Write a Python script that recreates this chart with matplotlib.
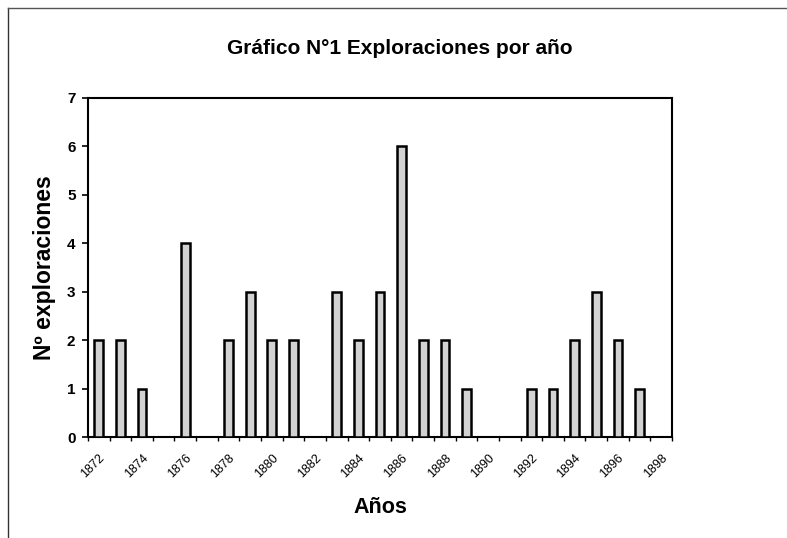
import matplotlib.pyplot as plt
import numpy as np
from matplotlib.lines import Line2D

plt.rcParams['font.family'] = ['Liberation Sans', 'DejaVu Sans']

years = list(range(1872, 1899))
exploraciones = [2, 2, 1, 0, 4, 0, 2, 3, 2, 2, 0, 3, 2, 3, 6, 2, 2, 1, 0, 0, 1, 1, 2, 3, 2, 1, 0]
label_years = [str(y) for y in years[::2]]

fig = plt.figure(figsize=(7.87, 5.38), dpi=100)
ax = fig.add_axes([0.1118, 0.1877, 0.742, 0.6307])

x = np.arange(len(years))
ax.bar(x, exploraciones, width=0.4, color='#d2d2d2', edgecolor='black', linewidth=1.8, zorder=3)

ax.set_xlim(-0.5, len(years) - 0.5)
ax.set_ylim(0, 7)
ax.set_yticks(range(0, 8))
ax.tick_params(axis='y', labelsize=11, length=4, width=1.2, pad=5)
for t in ax.get_yticklabels():
    t.set_fontweight('bold')

ax.set_xticks(x[::2])
ax.set_xticklabels(label_years, rotation=45, ha='right', va='top',
                   rotation_mode='anchor', fontsize=9)
ax.tick_params(axis='x', length=0, pad=11)
ax.set_xticks(np.arange(-0.5, len(years), 1), minor=True)
ax.tick_params(axis='x', which='minor', length=3, width=1)

for s in ax.spines.values():
    s.set_linewidth(1.5)
    s.set_color('black')

# title is centred on the chart area, a bit right of the plot centre
fig.text(400 / 787, 1 - 48 / 538, 'Gráfico N°1 Exploraciones por año', fontsize=15,
         fontweight='bold', ha='center', va='center')
ax.set_ylabel('Nº exploraciones', fontsize=16.5, fontweight='bold', labelpad=8)
ax.set_xlabel('Años', fontsize=15.5, fontweight='bold', labelpad=12)

# frame of the chart area (partly cropped in the scan)
fig.add_artist(Line2D([8 / 787, 8 / 787], [0, 1 - 8 / 538], transform=fig.transFigure,
                      color='#333333', linewidth=1))
fig.add_artist(Line2D([8 / 787, 1], [1 - 8 / 538, 1 - 8 / 538], transform=fig.transFigure,
                      color='#555555', linewidth=1))

fig.savefig('out.png', dpi=100)
